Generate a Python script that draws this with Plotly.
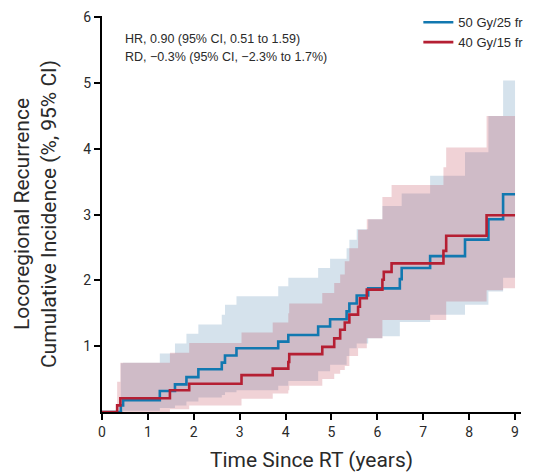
import plotly.graph_objects as go

# ---- data ----
blue_name = "50 Gy/25 fr"
red_name = "40 Gy/15 fr"

blue_t = [0, 0.41, 0.46, 1.26, 1.59, 1.84, 2.10, 2.61, 2.68, 2.93, 3.84, 4.06, 4.71, 4.97,
          5.33, 5.39, 5.55, 5.80, 6.49, 6.53, 7.15, 7.91, 8.42, 8.74, 9.0]
blue_v = [0, 0.10, 0.18, 0.32, 0.42, 0.53, 0.65, 0.75, 0.86, 0.97, 1.07, 1.17, 1.30, 1.41,
          1.53, 1.65, 1.77, 1.88, 2.02, 2.19, 2.37, 2.62, 2.93, 3.31, 3.31]

blue_ci_t = [0, 0.41, 0.46, 1.26, 1.59, 1.84, 2.10, 2.61, 2.68, 2.93, 3.84, 4.06, 4.71, 4.97,
             5.33, 5.39, 5.55, 5.80, 6.11, 6.49, 6.53, 7.15, 7.91, 8.42, 8.74, 9.0]
blue_lo = [0, 0, 0.02, 0.06, 0.10, 0.16, 0.22, 0.26, 0.30, 0.33, 0.40, 0.47, 0.62, 0.72,
           0.85, 0.97, 1.04, 1.12, 1.15, 1.37, 1.37, 1.48, 1.63, 1.83, 2.04, 2.04]
blue_hi = [0, 0.74, 0.75, 0.89, 1.04, 1.19, 1.33, 1.48, 1.63, 1.76, 1.91, 2.04, 2.19, 2.33,
           2.49, 2.62, 2.78, 2.93, 3.13, 3.13, 3.32, 3.59, 3.95, 4.50, 5.04, 5.04]

red_t = [0, 0.33, 0.40, 1.48, 1.90, 3.04, 3.72, 4.06, 4.08, 4.80, 5.06, 5.19, 5.29, 5.39,
         5.58, 5.62, 5.77, 6.11, 6.14, 6.31, 7.44, 7.50, 8.38, 9.0]
red_v = [0, 0.10, 0.21, 0.33, 0.43, 0.56, 0.66, 0.76, 0.88, 0.99, 1.12, 1.25, 1.36, 1.48,
         1.60, 1.73, 1.86, 2.01, 2.13, 2.26, 2.45, 2.68, 2.99, 2.99]

red_ci_t = [0, 0.33, 0.40, 1.48, 1.90, 3.04, 3.72, 4.06, 4.08, 4.80, 5.06, 5.19, 5.29, 5.39,
            5.58, 5.77, 6.11, 6.31, 7.44, 7.50, 8.38, 8.74, 9.0]
red_lo = [0, 0, 0, 0.04, 0.10, 0.20, 0.28, 0.33, 0.40, 0.50, 0.58, 0.64, 0.70, 0.85,
          0.97, 1.12, 1.40, 1.40, 1.40, 1.68, 1.85, 1.88, 1.88]
red_hi = [0, 0.46, 0.75, 0.90, 1.05, 1.21, 1.36, 1.50, 1.65, 1.81, 1.96, 2.09, 2.29, 2.49,
          2.77, 2.93, 3.27, 3.45, 3.72, 4.02, 4.50, 4.50, 4.50]

x_ticks = [0, 1, 2, 3, 4, 5, 6, 7, 8, 9]
y_ticks = [1, 2, 3, 4, 5, 6]
stats_lines = ["HR, 0.90 (95% CI, 0.51 to 1.59)",
               "RD, \u22120.3% (95% CI, \u22122.3% to 1.7%)"]

# ---- styles ----
BLUE = "#1278b0"
RED = "#b51f33"
BLUE_FILL = "rgba(55,117,165,0.21)"
RED_FILL = "rgba(184,41,60,0.21)"
TXT = "#2a2a2a"
TITLE_FONT = "Liberation Sans Narrow, Roboto, Arial, sans-serif"
BODY_FONT = "Liberation Sans, Arial, sans-serif"

fig = go.Figure()

def band(t, lo, hi, color):
    fig.add_trace(go.Scatter(x=t, y=lo, mode="lines", line=dict(width=0, shape="hv"),
                             showlegend=False, hoverinfo="skip"))
    fig.add_trace(go.Scatter(x=t, y=hi, mode="lines", line=dict(width=0, shape="hv"),
                             fill="tonexty", fillcolor=color, showlegend=False,
                             hoverinfo="skip"))

band(blue_ci_t, blue_lo, blue_hi, BLUE_FILL)
band(red_ci_t, red_lo, red_hi, RED_FILL)

fig.add_trace(go.Scatter(x=blue_t, y=blue_v, mode="lines", name=blue_name, legendgroup="b",
                         line=dict(color=BLUE, width=2.6, shape="hv")))
fig.add_trace(go.Scatter(x=red_t, y=red_v, mode="lines", name=red_name, legendgroup="r",
                         line=dict(color=RED, width=2.6, shape="hv")))

for i, s in enumerate(stats_lines):
    fig.add_annotation(x=0.46, y=5.67 - i * 0.27, xref="x", yref="y", text=s,
                       showarrow=False, xanchor="left", yanchor="middle",
                       font=dict(family=BODY_FONT, size=12.5, color=TXT))

fig.update_layout(
    width=539, height=476,
    margin=dict(l=102, r=18, t=16, b=64, autoexpand=False),
    plot_bgcolor="white", paper_bgcolor="white",
    showlegend=True,
    legend=dict(x=0.755, y=1.022, xanchor="left", yanchor="top", traceorder="normal",
                bgcolor="rgba(0,0,0,0)", font=dict(family=BODY_FONT, size=13, color=TXT),
                tracegroupgap=3, itemwidth=30),
    xaxis=dict(range=[0, 9.13], tickvals=x_ticks, showgrid=False, zeroline=False,
               showline=True, linecolor="black", linewidth=2,
               ticks="outside", ticklen=6, tickwidth=2, tickcolor="black",
               tickfont=dict(family="Roboto, sans-serif", size=14, color=TXT),
               title=dict(text="Time Since RT (years)", standoff=14,
                          font=dict(family=TITLE_FONT, size=21, color=TXT))),
    yaxis=dict(range=[0, 6.02], tickvals=y_ticks, showgrid=False, zeroline=False,
               showline=True, linecolor="black", linewidth=2,
               ticks="outside", ticklen=6, tickwidth=2, tickcolor="black",
               tickfont=dict(family="Roboto, sans-serif", size=14, color=TXT),
               title=dict(text="Locoregional Recurrence<br>Cumulative Incidence (%, 95% CI)",
                          standoff=21,
                          font=dict(family=TITLE_FONT, size=21, color=TXT))),
)

fig.write_html("out.html")
